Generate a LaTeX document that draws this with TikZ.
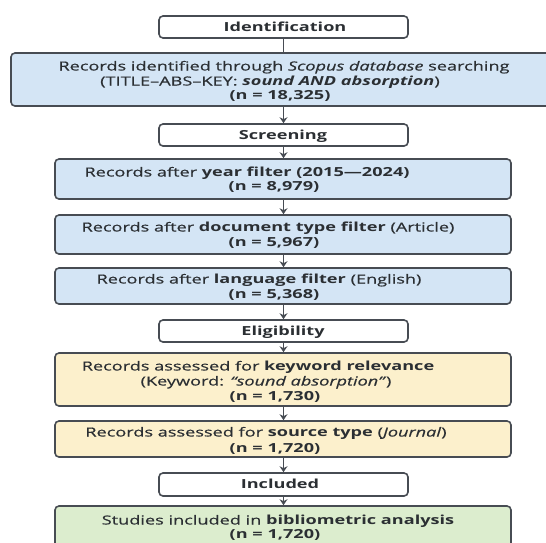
\documentclass[tikz,border=0pt]{standalone}
\usepackage{fontspec}
\setmainfont{Open Sans}[FakeStretch=1.45, UprightFeatures={FakeBold=0.5}, ItalicFeatures={FakeBold=0.5}]
\usetikzlibrary{arrows.meta}
\definecolor{edge}{HTML}{474C53}
\definecolor{bluef}{HTML}{D4E5F5}
\definecolor{yelf}{HTML}{FCF0CC}
\definecolor{grnf}{HTML}{DCEDCE}
\definecolor{txt}{HTML}{2B2F33}
\begin{document}
\begin{tikzpicture}[x=1pt,y=-1pt,
  every node/.style={font=\fontsize{12.5}{14.5}\selectfont, text=txt},
  stagebox/.style={draw=edge, line width=1.6pt, rounded corners=4pt, fill=white,
    minimum width=249pt, minimum height=22pt, inner sep=0pt},
  recbox/.style={draw=edge, line width=1.6pt, rounded corners=4pt,
    minimum width=456pt, inner sep=0pt},
  lbl/.style={inner sep=0pt, text height=0.95em, text depth=0.05em},
  conn/.style={draw=edge, line width=1.8pt},
  arr/.style={conn, -{Stealth[length=6pt,width=8pt]}}
]
\useasboundingbox (0,0) rectangle (546,542);
% boxes
\node[stagebox] (lab1) at (283.5,27) {};
\node[recbox, fill=bluef, minimum width=546pt, minimum height=53pt] (b1) at (284,79.5) {};
\node[stagebox] (lab2) at (283.5,135) {};
\node[recbox, fill=bluef, minimum height=40pt] (b2) at (283,179) {};
\node[recbox, fill=bluef, minimum height=39pt] (b3) at (283,234.5) {};
\node[recbox, fill=bluef, minimum height=36pt] (b4) at (283,286) {};
\node[stagebox] (lab3) at (283.5,331) {};
\node[recbox, fill=yelf, minimum height=53pt] (b5) at (283,379.5) {};
\node[recbox, fill=yelf, minimum height=36pt] (b6) at (283,439) {};
\node[stagebox, minimum height=23pt] (lab4) at (283.5,484.5) {};
\node[recbox, fill=grnf, minimum height=42pt] (b7) at (283,527) {};
% texts
\node[lbl] (t0) at (285,27) {\textbf{Identification}};
\node[lbl] (t1a) at (284,66) {Records identified through \textit{Scopus database} searching};
\node[lbl] (t1b) at (270,81) {(TITLE–ABS–KEY: \textbf{\textit{sound AND absorption}})};
\node[lbl] (t1c) at (280,95) {\textbf{(n = 18,325)}};
\node[lbl] (t2) at (283,135) {\textbf{Screening}};
\node[lbl] (t2a) at (247,172) {Records after \textbf{year filter (2015—2024)}};
\node[lbl] (t2b) at (274,186) {\textbf{(n = 8,979)}};
\node[lbl] (t3a) at (268,227) {Records after \textbf{document type filter} (Article)};
\node[lbl] (t3b) at (274,242) {\textbf{(n = 5,967)}};
\node[lbl] (t4a) at (259,279) {Records after \textbf{language filter} (English)};
\node[lbl] (t4b) at (274,294) {\textbf{(n = 5,368)}};
\node[lbl] (t5) at (283,331) {\textbf{Eligibility}};
\node[lbl] (t5a) at (258,366) {Records assessed for \textbf{keyword relevance}};
\node[lbl] (t5b) at (266,381) {(Keyword: \textit{“sound absorption”})};
\node[lbl] (t5c) at (275,396) {\textbf{(n = 1,730)}};
\node[lbl] (t6a) at (266,432) {Records assessed for \textbf{source type} (\textit{Journal})};
\node[lbl] (t6b) at (275,448) {\textbf{(n = 1,720)}};
\node[lbl] (t7) at (280,484) {\textbf{Included}};
\node[lbl] (t7a) at (278,520) {Studies included in \textbf{bibliometric analysis}};
\node[lbl] (t7b) at (275,534) {\textbf{(n = 1,720)}};
% connectors
\draw[conn] (lab1.south) -- (lab1.south |- b1.north);
\draw[arr] (lab1.south |- b1.south) -- (lab2.north);
\draw[arr] (lab2.south) -- (lab2.south |- b2.north);
\draw[arr] (lab2.south |- b2.south) -- (lab2.south |- b3.north);
\draw[arr] (lab2.south |- b3.south) -- (lab2.south |- b4.north);
\draw[arr] (lab2.south |- b4.south) -- (lab3.north);
\draw[arr] (lab3.south) -- (lab3.south |- b5.north);
\draw[arr] (lab3.south |- b5.south) -- (lab3.south |- b6.north);
\draw[arr] (lab3.south |- b6.south) -- (lab4.north);
\draw[arr] (lab4.south) -- (lab4.south |- b7.north);
\end{tikzpicture}
\end{document}
